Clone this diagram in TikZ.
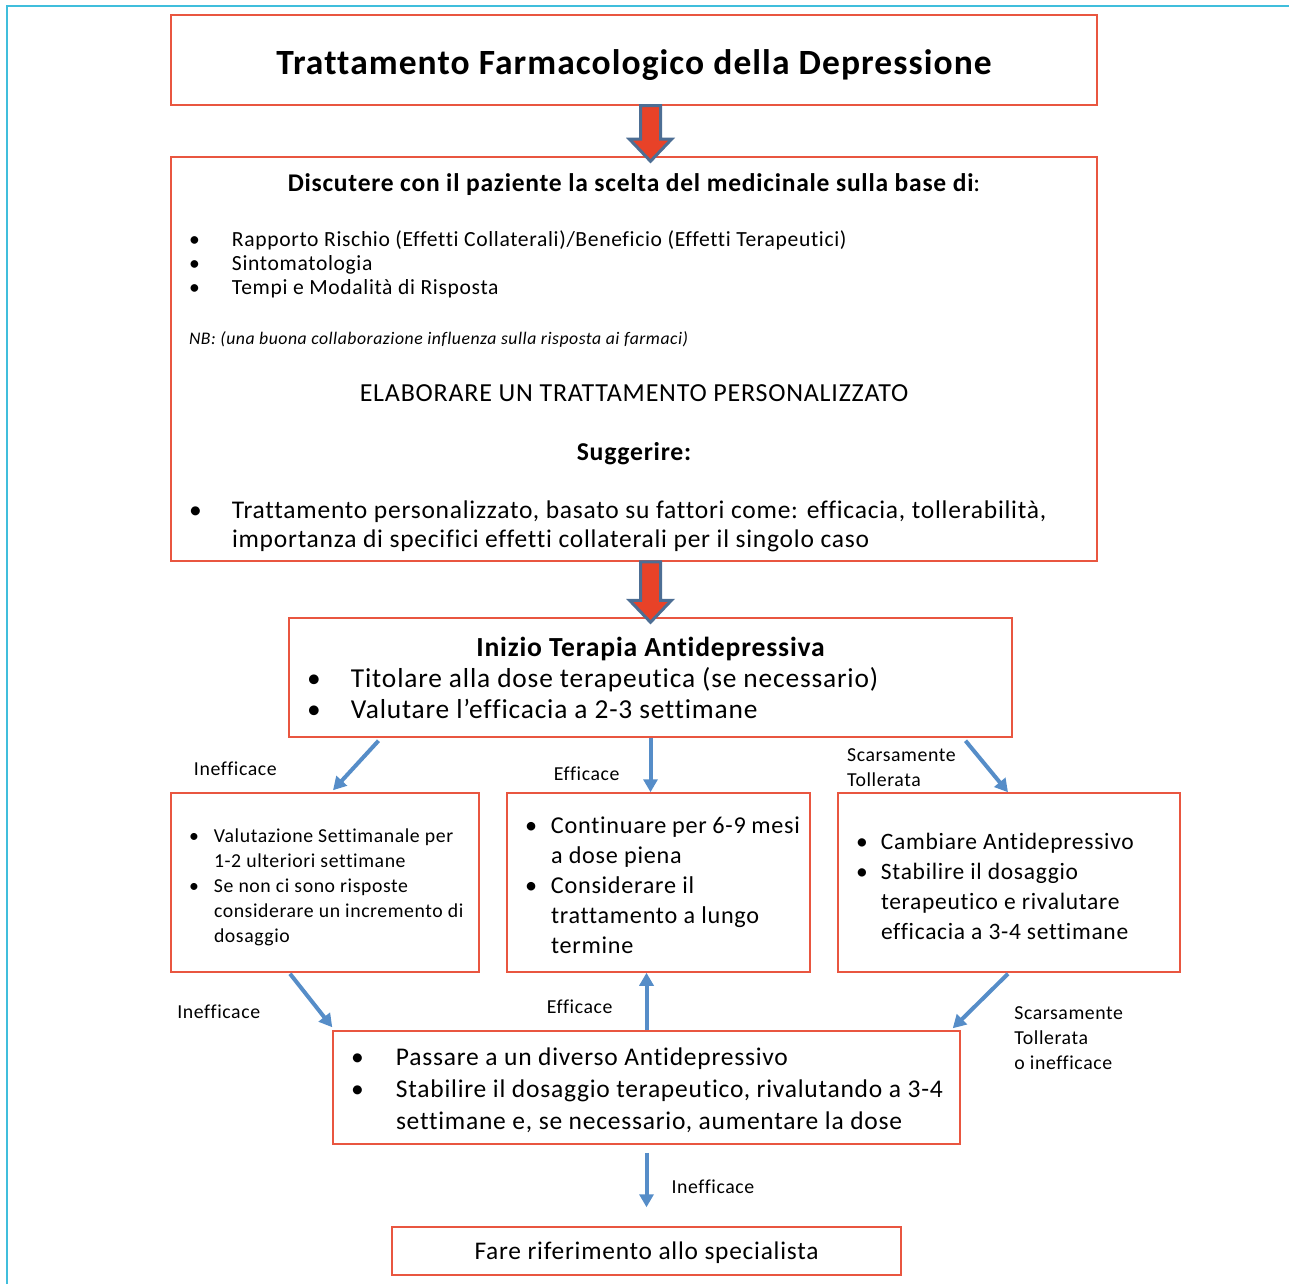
\documentclass[tikz,border=0pt]{standalone}
\usepackage{fontspec}
\setmainfont{Carlito}[Ligatures=NoCommon, LetterSpace=3]
\usetikzlibrary{positioning,calc,arrows.meta}

\definecolor{boxred}{RGB}{233,86,64}
\definecolor{flowblue}{RGB}{86,141,200}
\definecolor{blockred}{RGB}{232,66,40}
\definecolor{blockedge}{RGB}{77,110,148}
\definecolor{framecyan}{RGB}{64,190,220}

\tikzstyle{box}=[rectangle, draw=boxred, line width=1.5pt, inner xsep=10pt, inner ysep=0pt, align=flush left]
\tikzstyle{flow}=[-{Triangle[length=13pt,width=14pt]}, draw=flowblue, line width=4pt]
\tikzstyle{lbl}=[inner sep=0pt, align=flush left, font=\fontsize{19.8}{25}\selectfont]
\tikzstyle{block}=[fill=blockred, draw=blockedge, line width=3pt, line join=miter]

\newcommand{\bitem}[2][25pt]{\leftskip=8pt\hangindent=#1\hangafter=1\noindent\makebox[#1][l]{\textbullet}#2\par}
\newcommand{\blockarrow}[2]{%
  \draw[block] ($(#1)+(-10,0)$) -- ($(#2)+(-10,-17)$) -- ($(#2)+(-21,-17)$) -- ($(#2)+(0,5)$)
    -- ($(#2)+(21,-17)$) -- ($(#2)+(10,-17)$) -- ($(#1)+(10,0)$) -- cycle;}

\begin{document}
\begin{tikzpicture}[x=1pt, y=-1pt]
	\useasboundingbox (0,0) rectangle (1289,1284);
	\draw[framecyan, line width=1.5pt] (7,1284) -- (7,6) -- (1289,6);

	\node (title) [box, minimum width=926pt, minimum height=90pt, text width=906pt, align=flush center,
		text height=30pt, text depth=0pt, font=\fontsize{35.5}{40}\selectfont\bfseries] at (634,60)
		{Trattamento Farmacologico della Depressione};

	\node (disc) [box, below=50.5pt of title, minimum width=926pt, minimum height=404pt, text width=906pt]
		{
			{\centering\fontsize{25.5}{26}\selectfont\bfseries\rule{0pt}{24.5pt}Discutere con il paziente la scelta del medicinale sulla base di\mdseries:\par}
			\vspace{31pt}
			{\fontsize{21.6}{24}\selectfont
			\bitem[43pt]{Rapporto Rischio (Effetti Collaterali)/Beneficio (Effetti Terapeutici)}
			\bitem[43pt]{Sintomatologia}
			\bitem[43pt]{Tempi e Modalità di Risposta}}
			{\leftskip=8pt\fontsize{17.7}{50}\selectfont\itshape NB: (una buona collaborazione influenza sulla risposta ai farmaci)\par}
			{\centering\fontsize{26}{57}\selectfont ELABORARE UN TRATTAMENTO PERSONALIZZATO\par}
			{\centering\fontsize{25.7}{59}\selectfont\bfseries Suggerire:\par}
			\vspace{29pt}
			{\fontsize{25.5}{29}\selectfont
			\bitem[43pt]{Trattamento personalizzato, basato su fattori come: efficacia, tollerabilità,\newline importanza di specifici effetti collaterali per il singolo caso}}
		};

	\node (tera) [box, below=55.5pt of disc, xshift=16.5pt, minimum width=723pt, minimum height=119pt,
		text width=703pt, font=\fontsize{27.4}{31}\selectfont]
		{
			{\centering\fontsize{27.6}{31}\selectfont\bfseries Inizio Terapia Antidepressiva\par}
			\bitem[44pt]{Titolare alla dose terapeutica (se necessario)}
			\bitem[44pt]{Valutare l’efficacia a 2-3 settimane}
		};

	\node (contin) [box, below=54.5pt of tera, xshift=8pt, minimum width=303pt, minimum height=179pt,
		text width=283pt, font=\fontsize{24.2}{30}\selectfont]
		{
			\bitem[26pt]{\rule{0pt}{21.7pt}Continuare per 6-9 mesi\newline a dose piena}
			\bitem[26pt]{Considerare il\newline trattamento a lungo\newline termine}
		};

	\node (valut) [box, left=26.5pt of contin, minimum width=308pt, minimum height=179pt,
		text width=288pt, font=\fontsize{19.75}{25}\selectfont]
		{
			\bitem{\rule{0pt}{23.6pt}Valutazione Settimanale per\newline 1-2 ulteriori settimane}
			\bitem{Se non ci sono risposte\newline considerare un incremento di\newline dosaggio}
		};

	\node (cambia) [box, right=26.5pt of contin, minimum width=342pt, minimum height=179pt,
		text width=322pt, font=\fontsize{23.5}{30}\selectfont]
		{
			\bitem{\rule{0pt}{23.2pt}Cambiare Antidepressivo}
			\bitem{Stabilire il dosaggio\newline terapeutico e rivalutare\newline efficacia a 3-4 settimane}
		};

	\node (passare) [box, below=57.5pt of contin, xshift=-12pt, minimum width=627pt, minimum height=113pt,
		text width=607pt, font=\fontsize{25.5}{32}\selectfont]
		{
			\bitem[45pt]{\rule{0pt}{23.6pt}Passare a un diverso Antidepressivo}
			\bitem[45pt]{Stabilire il dosaggio terapeutico, rivalutando a 3-4\newline settimane e, se necessario, aumentare la dose}
		};

	\node (fare) [box, below=81.5pt of passare, minimum width=509pt, minimum height=48pt,
		text width=489pt, align=flush center, text depth=0pt, font=\fontsize{25.4}{30}\selectfont]
		{Fare riferimento allo specialista};

	% block arrows
	\blockarrow{title.south -| tera.north}{disc.north -| tera.north}
	\blockarrow{disc.south -| tera.north}{tera.north}

	% outcome arrows
	\draw[flow] ($(tera.south)+(-272,3)$) -- node[lbl, left=77pt, yshift=-3pt] {Inefficace} ($(valut.north)+(8,-2)$);
	\draw[flow] (tera.south) -- node[lbl, left=29pt, yshift=-9pt] {Efficace} (tera.south |- contin.north);
	\draw[flow] ($(tera.south)+(315,3)$) -- node[lbl, left=29pt, yshift=-1pt] {Scarsamente\\Tollerata} ($(cambia.north)+(-1,0)$);

	\draw[flow] ($(valut.south)+(-35,1)$) -- node[lbl, left=49pt, yshift=-11pt] {Inefficace} ($(passare.north west)+(0,-3)$);
	\draw[flow] (passare.north) -- node[lbl, left=32pt, yshift=-5pt] {Efficace} (passare.north |- contin.south);
	\draw[flow] ($(cambia.south)+(-1,1)$) -- node[lbl, right=32pt, yshift=-37pt] {Scarsamente\\Tollerata\\o inefficace} ($(passare.north east)+(-8,-2)$);

	\draw[flow] ($(passare.south)+(0,8)$) -- node[lbl, right=23pt, yshift=-7pt] {Inefficace} ($(fare.north)+(0,-19)$);

\end{tikzpicture}
\end{document}
